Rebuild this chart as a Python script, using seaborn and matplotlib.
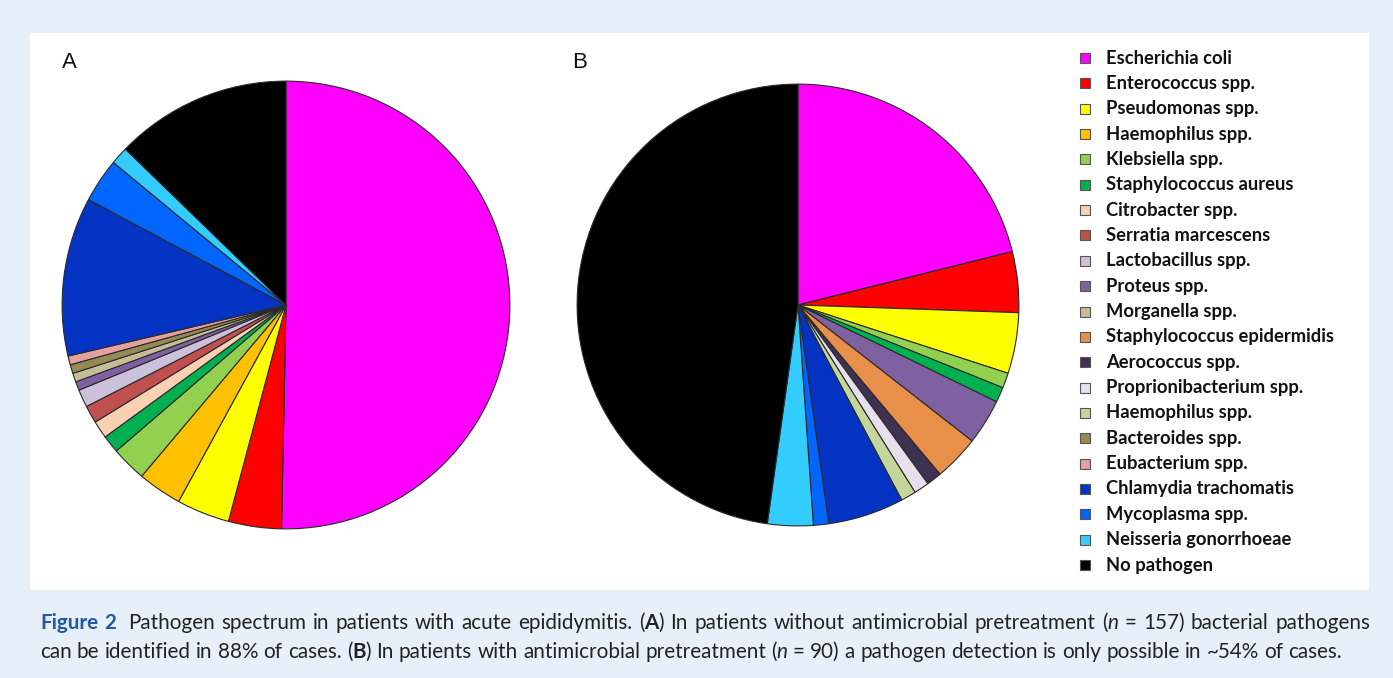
import matplotlib
matplotlib.use("Agg")
import matplotlib.pyplot as plt
from matplotlib.patches import Rectangle
import seaborn as sns

categories = ["Escherichia coli", "Enterococcus spp.", "Pseudomonas spp.", "Haemophilus spp.",
              "Klebsiella spp.", "Staphylococcus aureus", "Citrobacter spp.", "Serratia marcescens",
              "Lactobacillus spp.", "Proteus spp.", "Morganella spp.", "Staphylococcus epidermidis",
              "Aerococcus spp.", "Proprionibacterium spp.", "Haemophilus spp.", "Bacteroides spp.",
              "Eubacterium spp.", "Chlamydia trachomatis", "Mycoplasma spp.", "Neisseria gonorrhoeae",
              "No pathogen"]
colors = ["#FF00FF", "#FF0000", "#FFFF00", "#FFC000", "#92D050", "#00B050", "#FAD0B2", "#C0504D",
          "#CCC0DA", "#7F60A0", "#C4BD97", "#E8904A", "#3F3151", "#E6E0EC", "#C3D69B", "#948A54",
          "#E6A0A0", "#0533C4", "#0066FF", "#33CCFF", "#000000"]
# counts (patients) per pathogen
counts_A = [79, 6, 6, 5, 4, 2, 2, 2, 2, 1, 1, 0, 0, 0, 0, 1, 1, 18, 5, 2, 20]   # n = 157
counts_B = [19, 4, 4, 0, 1, 1, 0, 0, 0, 3, 0, 3, 1, 1, 1, 0, 0, 5, 1, 3, 43]   # n = 90

sns.set_theme(style="white")
plt.rcParams["font.family"] = ["Lato", "DejaVu Sans"]

W, H = 1393, 678
fig = plt.figure(figsize=(W / 100, H / 100), dpi=100)
fig.patch.set_facecolor("#E7EFF9")

# white panel
fig.patches.append(Rectangle((30 / W, 1 - 590 / H), (1369 - 30) / W, (590 - 33) / H,
                             transform=fig.transFigure, facecolor="white", edgecolor="none", zorder=-5))


def draw_pie(cx, cy, r, counts):
    ax = fig.add_axes([(cx - r) / W, 1 - (cy + r) / H, 2 * r / W, 2 * r / H])
    ax.set_zorder(2)
    ax.patch.set_alpha(0)
    vals = [v for v in counts if v > 0]
    cols = [c for v, c in zip(counts, colors) if v > 0]
    ax.pie(vals, colors=cols, startangle=90, counterclock=False,
           wedgeprops=dict(edgecolor="#2a2a2a", linewidth=0.8))
    ax.set_xlim(-1.005, 1.005)
    ax.set_ylim(-1.005, 1.005)
    ax.set_aspect("equal")
    ax.axis("off")
    return ax


draw_pie(286, 305, 225, counts_A)
draw_pie(798, 305, 222, counts_B)

fig.text(62 / W, 1 - 62 / H, "A", fontsize=16, family=["Liberation Sans"], va="center", ha="left", color="#111111")
fig.text(572 / W, 1 - 62 / H, "B", fontsize=16, family=["Liberation Sans"], va="center", ha="left", color="#111111")

# legend
y0, dy = 58, 25.35
for i, (lab, col) in enumerate(zip(categories, colors)):
    y = y0 + i * dy
    fig.patches.append(Rectangle(((1085 - 5) / W, 1 - (y + 5) / H), 10 / W, 10 / H,
                                 transform=fig.transFigure, facecolor=col,
                                 edgecolor="#555555", linewidth=0.8, zorder=3))
    fig.text(1106 / W, 1 - y / H, lab, fontsize=13.2, fontweight="bold", va="center", ha="left",
             color="#111111")

# caption
renderer = fig.canvas.get_renderer()
cap_color = "#222222"
blue = "#2159A8"
fs = 14.9


def seg_width(s, **kw):
    t1 = fig.text(0, 0, "x" + s + "x", fontsize=fs, **kw)
    t2 = fig.text(0, 0, "xx", fontsize=fs, **kw)
    w = t1.get_window_extent(renderer).width - t2.get_window_extent(renderer).width
    t1.remove()
    t2.remove()
    return w


def draw_line(segments, x, y, right=None):
    # tokens: (word, style, number of spaces before it)
    tokens = []
    pending = 0
    for s, kw in segments:
        word = ""
        for ch in s:
            if ch == " ":
                if word:
                    tokens.append((word, kw, pending))
                    pending = 0
                    word = ""
                pending += 1
            else:
                word += ch
        if word:
            tokens.append((word, kw, pending))
            pending = 0
    # merge adjacent tokens with no space between them? keep separate, just no gap
    space_w = seg_width(" ", **N)
    widths = [seg_width(t[0], **t[1]) for t in tokens]
    n_gaps = sum(1 for t in tokens if t[2] > 0)
    nat = sum(widths) + space_w * sum(t[2] for t in tokens)
    extra = 0
    if right is not None and n_gaps > 0:
        extra = (right - x - nat) / n_gaps
    for (word, kw, nsp), w in zip(tokens, widths):
        if nsp:
            x += space_w * nsp + extra
        fig.text(x / W, 1 - y / H, word, fontsize=fs, va="baseline", ha="left", **kw)
        x += w


N = dict(color=cap_color)
B = dict(color=cap_color, fontweight="bold")
I = dict(color=cap_color, style="italic")
line1 = [("Figure 2", dict(color=blue, fontweight="bold")),
         ("  Pathogen spectrum in patients with acute epididymitis. (", N), ("A", B),
         (") In patients without antimicrobial pretreatment (", N), ("n", I),
         (" = 157) bacterial pathogens", N)]
line2 = [("can be identified in 88% of cases. (", N), ("B", B),
         (") In patients with antimicrobial pretreatment (", N), ("n", I),
         (" = 90) a pathogen detection is only possible in ~54% of cases.", N)]
draw_line(line1, 40, 629, right=1370)
draw_line(line2, 40, 658)

fig.savefig("out.png", dpi=100, facecolor=fig.get_facecolor())
